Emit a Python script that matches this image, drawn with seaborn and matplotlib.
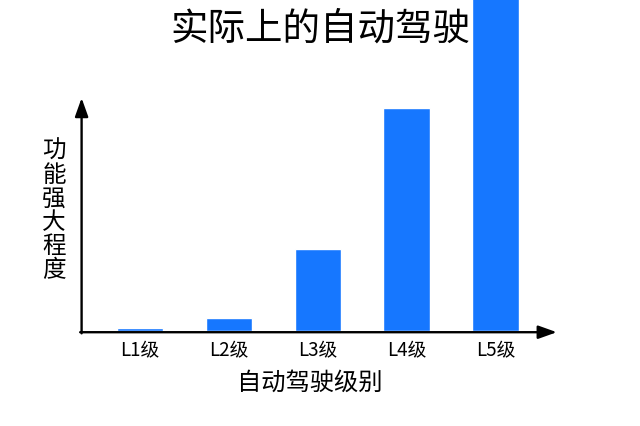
import pandas as pd
import matplotlib.pyplot as plt
import seaborn as sns

# values (bar heights, arbitrary units ~ pixels)
levels = ['L1级', 'L2级', 'L3级', 'L4级', 'L5级']
strength = [3.3, 13, 82, 223, 345]

title = '实际上的自动驾驶'
x_label = '自动驾驶级别'
y_label = '功能强大程度'

sns.set_style('white')
plt.rcParams['font.family'] = ['Noto Sans CJK SC', 'DejaVu Sans']
plt.rcParams['text.color'] = 'black'
plt.rcParams['xtick.color'] = 'black'

df = pd.DataFrame({'level': levels, 'strength': strength})

fig = plt.figure(figsize=(6.4, 4.26), dpi=100)
ax = fig.add_axes([0.1275, 95 / 426, 0.7425, 233 / 426])

sns.barplot(data=df, x='level', y='strength', color='#1677FF', saturation=1,
            width=0.52, ax=ax)
for p in ax.patches:
    p.set_clip_on(False)

ax.set_xlim(-0.656, 4.69)
ax.set_ylim(0, 233)
ax.set_yticks([])
for s in ax.spines.values():
    s.set_visible(False)
ax.tick_params(axis='x', length=0, labelsize=13.5, pad=7, labelcolor='black')
ax.set_xlabel('')
ax.set_ylabel('')

# arrowed axes
arrow = dict(arrowstyle='-|>,head_length=0.7,head_width=0.25', lw=1.7,
             color='black', mutation_scale=16, shrinkA=0, shrinkB=0)
ax.annotate('', xy=(0, 1.0), xytext=(0, -0.01), xycoords='axes fraction',
            arrowprops=arrow)
ax.annotate('', xy=(1.0, -0.0052), xytext=(-0.003, -0.0052), xycoords='axes fraction',
            arrowprops=arrow)

fig.text(0.5, 1 - 29 / 426, title, ha='center', va='center', fontsize=27)
fig.text(310 / 640, 1 - 383 / 426, x_label, ha='center', va='center', fontsize=17.5)
fig.text(54 / 640, 1 - 211 / 426, '\n'.join(y_label), ha='center', va='center',
         fontsize=17, linespacing=1.05)

fig.savefig('out.png', dpi=100)
